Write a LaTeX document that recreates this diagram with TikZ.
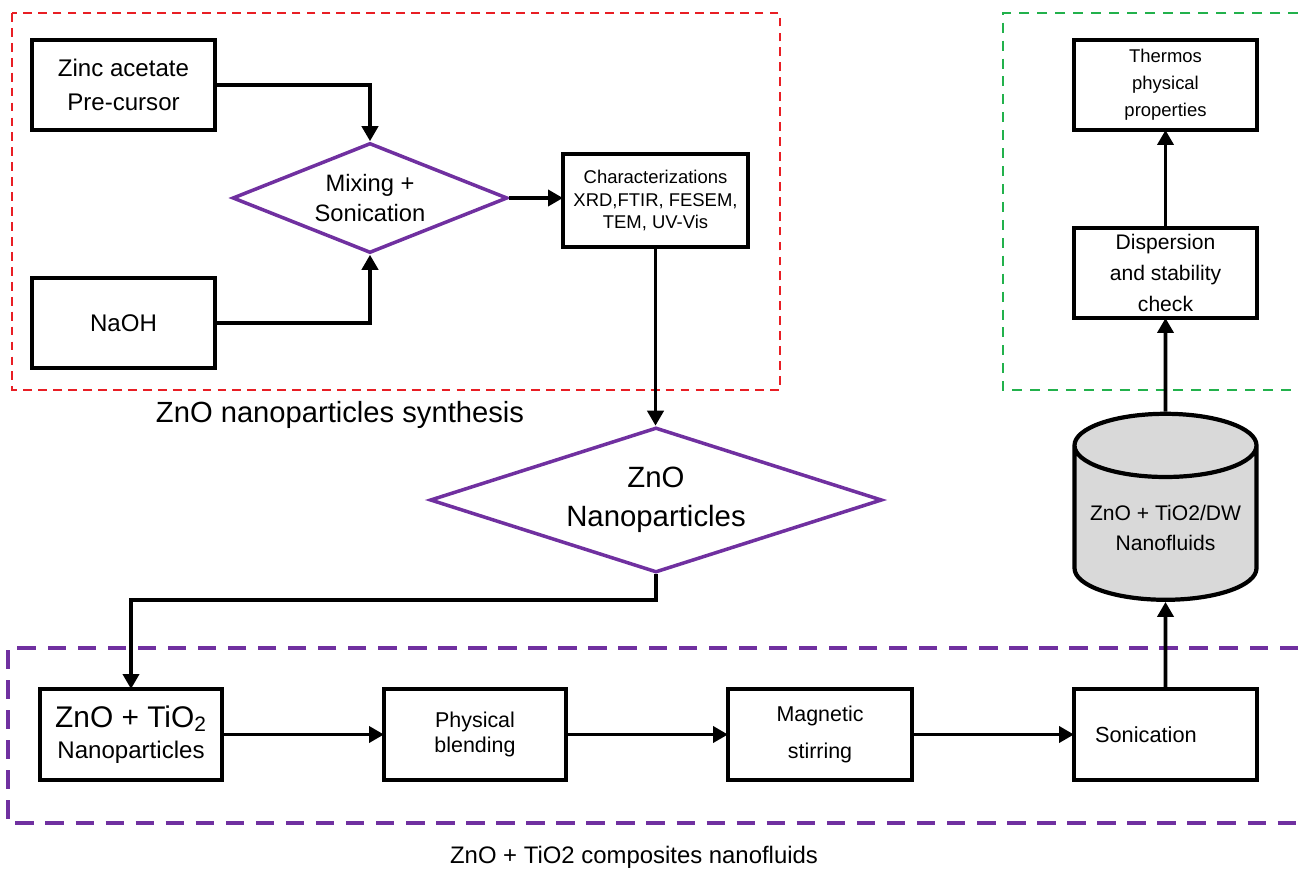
\documentclass[tikz,border=0pt]{standalone}
\usepackage{fontspec}
\setmainfont{Liberation Sans}
\usetikzlibrary{arrows.meta,positioning,shapes.geometric}
\definecolor{corroxo}{RGB}{112,48,160}
\definecolor{corverm}{RGB}{232,30,36}
\definecolor{corverde}{RGB}{34,177,76}
\definecolor{corcil}{RGB}{217,217,217}

\begin{document}
\begin{tikzpicture}[
  node distance=2.96cm and 3.24cm,
  caixa/.style={rectangle, draw=black, line width=2.6pt, fill=white, outer sep=0pt,
                minimum width=3.66cm, minimum height=1.8cm, align=center, inner sep=2pt},
  losango/.style={diamond, draw=corroxo, line width=2pt, fill=white,
                  align=center, inner sep=0pt},
  cilindro/.style={cylinder, shape border rotate=90, draw=black, line width=2.4pt,
                   fill=corcil, aspect=0.4, minimum width=3.64cm, minimum height=3.72cm,
                   align=center, inner sep=2pt},
  seta/.style={-{Triangle[length=3mm,width=3.2mm]}, line width=2.2pt}
]
  \useasboundingbox (0,0) rectangle (25.96,-17.42);

  % molduras tracejadas
  \draw[corverm, line width=1.2pt, dash pattern=on 5pt off 3.5pt] (0.24,-0.26) rectangle (15.6,-7.8);
  \draw[corverde, line width=1.4pt, dash pattern=on 5.7pt off 4.5pt] (25.96,-0.26) -- (20.06,-0.26) -- (20.06,-7.8) -- (25.96,-7.8);
  \draw[corroxo, line width=2.4pt, dash pattern=on 10.5pt off 6.6pt] (25.96,-12.96) -- (0.16,-12.96) -- (0.16,-16.46) -- (25.96,-16.46);

  % sintese
  \node[caixa, font=\fontsize{13.7}{19.5}\selectfont] (zinco) at (2.47,-1.70) {Zinc acetate\\ Pre-cursor};
  \node[caixa, below=of zinco, font=\fontsize{13.7}{19.5}\selectfont] (naoh) {NaOH};
  \node[losango, aspect=2.5, minimum width=5.5cm, minimum height=2.2cm,
        font=\fontsize{13.5}{17}\selectfont] (mistura) at (7.40,-3.96) {Mixing +\\ Sonication};
  \node[caixa, minimum width=3.7cm, minimum height=1.86cm, font=\fontsize{10.5}{13}\selectfont] (caract) at (13.11,-4.01)
       {Characterizations\\ XRD,FTIR, FESEM,\\ TEM, UV-Vis};
  \node[font=\fontsize{16.6}{19}\selectfont] (rotsintese) at (6.80,-8.30) {ZnO nanoparticles synthesis};

  \node[losango, aspect=3.1, minimum width=9.04cm, minimum height=2.9cm,
        font=\fontsize{16.7}{22}\selectfont] (zno) at (13.12,-10.0) {ZnO\\ Nanoparticles};

  % composito
  \node[caixa, minimum width=3.64cm, minimum height=1.82cm] (zntio) at (2.62,-14.69)
       {{\fontsize{17}{19}\selectfont ZnO + TiO\textsubscript{2}}\\[4pt] {\fontsize{13.7}{15}\selectfont Nanoparticles}};
  \node[caixa, right=3.24cm of zntio, minimum width=3.64cm, minimum height=1.82cm,
        font=\fontsize{12.2}{14.5}\selectfont] (mistfis) {Physical\\ blending};
  \node[caixa, right=3.24cm of mistfis, minimum width=3.68cm, minimum height=1.82cm,
        font=\fontsize{12.2}{21.5}\selectfont] (agita) {Magnetic\\ stirring};
  \node[caixa, right=3.24cm of agita, minimum width=3.66cm, minimum height=1.82cm,
        text width=2.82cm, inner xsep=0.42cm, align=left,
        font=\fontsize{12.4}{14}\selectfont] (sonic) {Sonication};
  \node[font=\fontsize{13.6}{16}\selectfont] (rotcomp) at (12.68,-17.14) {ZnO + TiO2 composites nanofluids};

  % nanofluido e ensaios
  \node[cilindro, font=\fontsize{12}{17}\selectfont] (fluido) at (23.31,-10.56) {ZnO + TiO2/DW\\ Nanofluids};
  \node[caixa, font=\fontsize{12}{17.6}\selectfont] (disp) at (23.31,-5.46) {Dispersion\\ and stability\\ check};
  \node[caixa, above=1.96cm of disp, font=\fontsize{10.5}{15.3}\selectfont] (termo) {Thermos\\ physical\\ properties};

  % conexoes
  \draw[seta] (zinco) -| (mistura);
  \draw[seta] (naoh) -| (mistura);
  \draw[seta] (mistura.east) -- (mistura.east -| caract.west);
  \draw[seta] (caract) -- (caract.south |- zno.north);
  \draw[seta] (zno.south) -- ++(0,-0.52) -| (zntio.north);
  \draw[seta] (zntio) -- (mistfis);
  \draw[seta] (mistfis) -- (agita);
  \draw[seta] (agita) -- (sonic);
  \draw[seta] (sonic) -- (fluido);
  \draw[seta] (fluido) -- (disp);
  \draw[seta] (disp) -- (termo);
\end{tikzpicture}
\end{document}
